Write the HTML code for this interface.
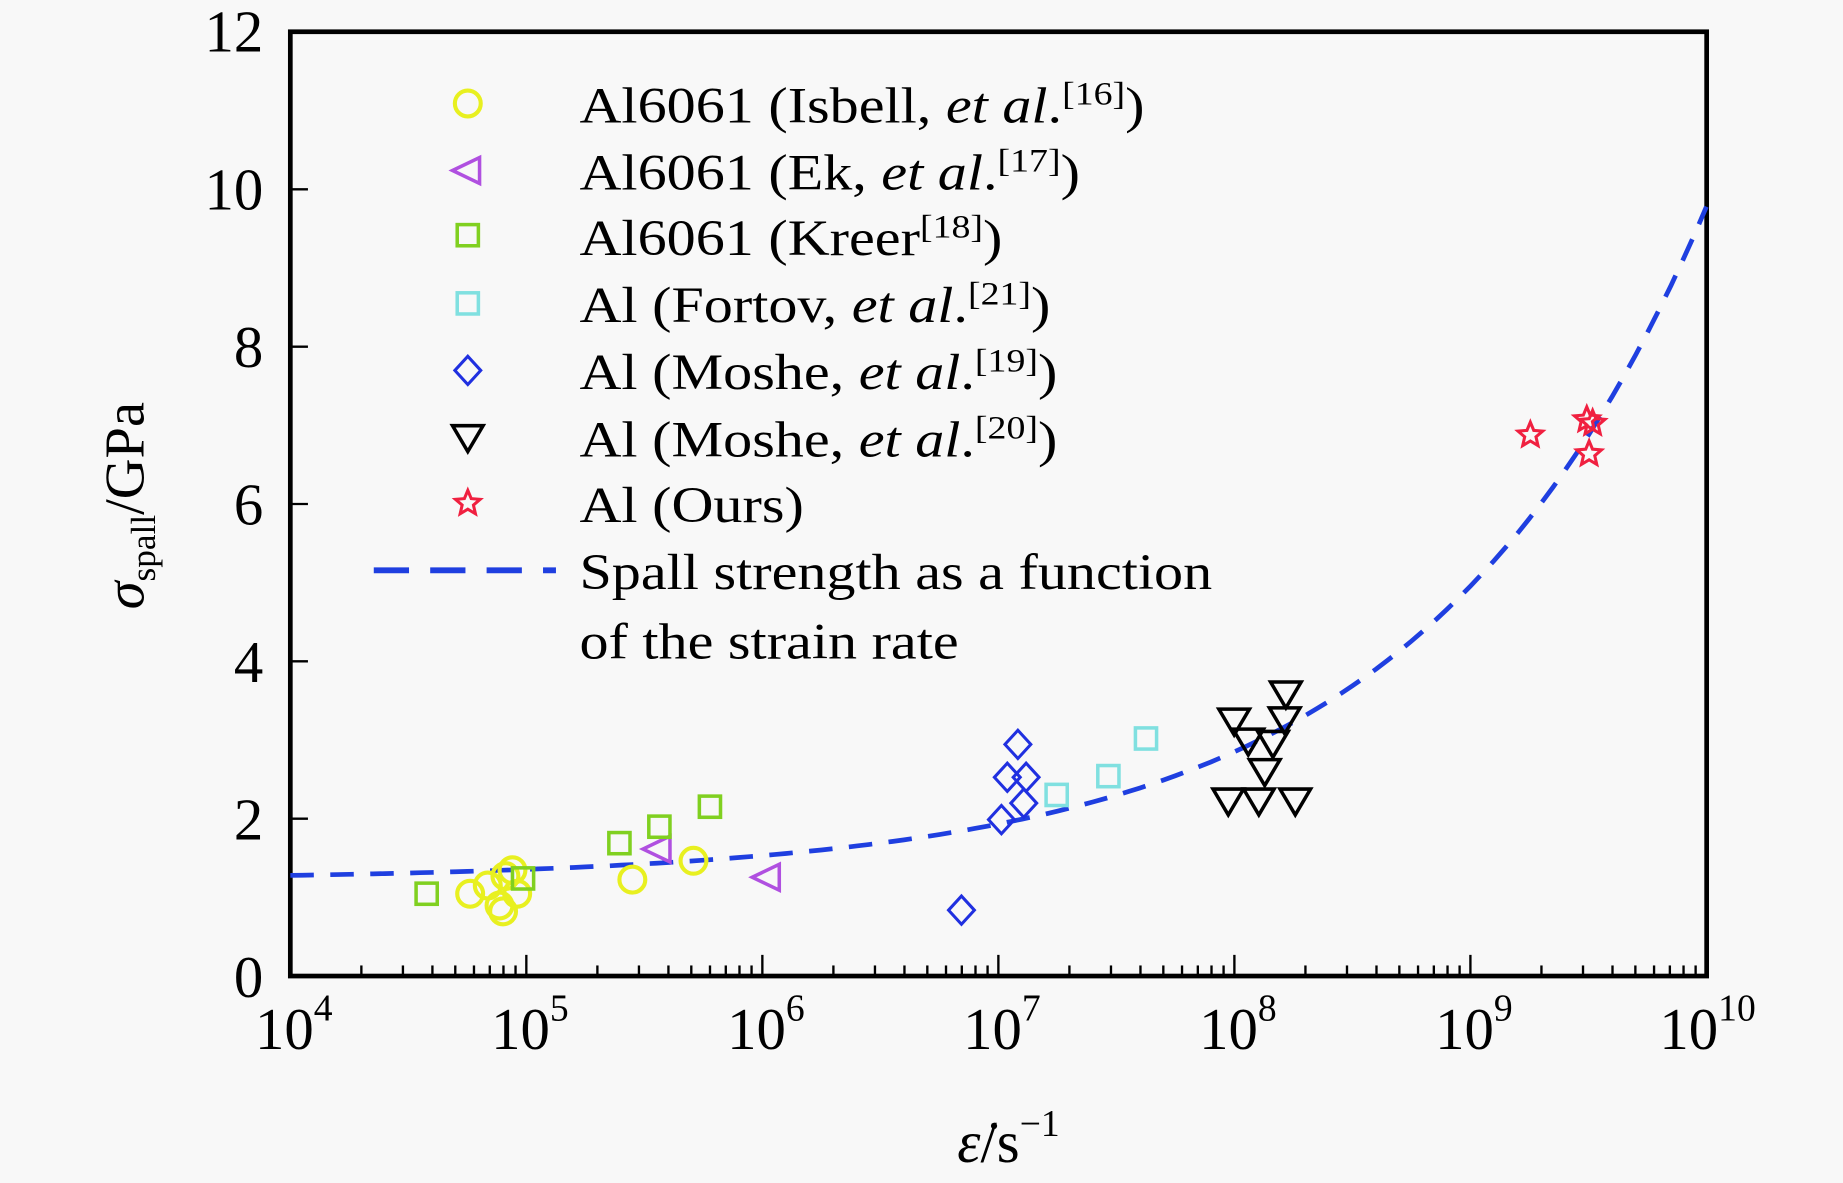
<!DOCTYPE html>
<html><head><meta charset="utf-8"><style>
html,body{margin:0;padding:0;background:#f8f8f8;}
svg{display:block;}
text{font-family:"Liberation Serif",serif;fill:#000;}
</style></head><body>
<svg id="s" width="1843" height="1183" viewBox="0 0 1568 1006" preserveAspectRatio="none">
<rect width="1568" height="1006" fill="#f8f8f8"/>
<g id="ticks" stroke="#000" stroke-width="2"></g>
<rect x="247" y="27" width="1205" height="803" fill="none" stroke="#000" stroke-width="4"/>
<g font-size="50" text-anchor="end">
<text x="224" y="848">0</text><text x="224" y="714">2</text><text x="224" y="580">4</text>
<text x="224" y="446">6</text><text x="224" y="312">8</text><text x="224" y="178">10</text><text x="224" y="44">12</text>
</g>
<g font-size="50" id="xl"></g>
<path id="curve" fill="none" stroke="#1f3fe0" stroke-width="4" stroke-dasharray="20,14"/>
<g id="pts" fill="none" stroke-width="2.6"></g>
<g font-size="43" transform="translate(493,0) scale(1.15,1)">
<text x="0" y="104">Al6061 (Isbell, <tspan font-style="italic">et al</tspan>.<tspan font-size="28" dy="-15">[16]</tspan><tspan dy="15">)</tspan></text>
<text x="0" y="161">Al6061 (Ek, <tspan font-style="italic">et al</tspan>.<tspan font-size="28" dy="-15">[17]</tspan><tspan dy="15">)</tspan></text>
<text x="0" y="217">Al6061 (Kreer<tspan font-size="28" dy="-15">[18]</tspan><tspan dy="15">)</tspan></text>
<text x="0" y="274">Al (Fortov, <tspan font-style="italic">et al</tspan>.<tspan font-size="28" dy="-15">[21]</tspan><tspan dy="15">)</tspan></text>
<text x="0" y="331">Al (Moshe, <tspan font-style="italic">et al</tspan>.<tspan font-size="28" dy="-15">[19]</tspan><tspan dy="15">)</tspan></text>
<text x="0" y="388">Al (Moshe, <tspan font-style="italic">et al</tspan>.<tspan font-size="28" dy="-15">[20]</tspan><tspan dy="15">)</tspan></text>
<text x="0" y="444">Al (Ours)</text>
<text x="0" y="501">Spall strength as a function</text>
<text x="0" y="560">of the strain rate</text>
</g>
<line x1="318" y1="485" x2="473" y2="485" stroke="#1f3fe0" stroke-width="5" stroke-dasharray="30,18"/>
<text transform="translate(122,430) rotate(-90)" font-size="48" text-anchor="middle"><tspan font-style="italic">σ</tspan><tspan font-size="30" dy="10">spall</tspan><tspan dy="-10">/GPa</tspan></text>
<text x="858" y="988" font-size="50" text-anchor="middle"><tspan font-style="italic">ε̇</tspan>/s<tspan font-size="32" dy="-22">−1</tspan></text>
</svg>
<script>
var NS="http://www.w3.org/2000/svg";
function X(l){return 247+(l-4)*200.8;}
function Y(v){return 830-v*66.9;}
function el(p,t,a){var e=document.createElementNS(NS,t);for(var k in a)e.setAttribute(k,a[k]);p.appendChild(e);return e;}
var tk=document.getElementById('ticks');
for(var d=4;d<10;d++){el(tk,'line',{x1:X(d),y1:830,x2:X(d),y2:812});
 for(var m=2;m<10;m++){var x=X(d+Math.log10(m));el(tk,'line',{x1:x,y1:830,x2:x,y2:821});}}
for(var v=2;v<12;v+=2)el(tk,'line',{x1:247,y1:Y(v),x2:262,y2:Y(v)});
var xl=document.getElementById('xl');
for(var d=4;d<=10;d++){var t=el(xl,'text',{x:X(d)-(d==10?40:30),y:892});t.textContent='10';
 var s=el(t,'tspan',{'font-size':'32','dy':'-24'});s.textContent=d;}
var p="";for(var l=4;l<=10.001;l+=0.05){var v=1.22+0.00215*Math.pow(10,0.36*l);p+=(p?"L":"M")+X(l).toFixed(1)+","+Y(v).toFixed(1);}
document.getElementById('curve').setAttribute('d',p);
var g=document.getElementById('pts');
function circ(x,y){el(g,'circle',{cx:x,cy:y,r:11,stroke:'#e8f020','stroke-width':3.5});}
function ltri(x,y,c){el(g,'polygon',{points:(x-13)+','+y+' '+(x+10)+','+(y-11)+' '+(x+10)+','+(y+11),stroke:c||'#b050e0','stroke-width':3});}
function sq(x,y,c){el(g,'rect',{x:x-9,y:y-9,width:18,height:18,stroke:c,'stroke-width':3});}
function dia(x,y){el(g,'polygon',{points:x+','+(y-12)+' '+(x+11)+','+y+' '+x+','+(y+12)+' '+(x-11)+','+y,stroke:'#2030e0'});}
function dtri(x,y){el(g,'polygon',{points:(x-13)+','+(y-10)+' '+(x+13)+','+(y-10)+' '+x+','+(y+12),stroke:'#000','stroke-width':3});}
function star(x,y){var pt=[];for(var i=0;i<10;i++){var r=i%2?5:11,a=-Math.PI/2+i*Math.PI/5;pt.push((x+r*Math.cos(a)).toFixed(1)+','+(y+r*Math.sin(a)).toFixed(1));}
 el(g,'polygon',{points:pt.join(' '),stroke:'#f02040','stroke-width':2.6});}
[[400,760],[415,753],[425,770],[430,745],[436,740],[440,760],[428,775],[538,748],[590,732]].forEach(function(a){circ(a[0],a[1]);});
[[560,722],[653,746]].forEach(function(a){ltri(a[0],a[1]);});
[[363,760],[445,747],[527,717],[561,703],[604,686]].forEach(function(a){sq(a[0],a[1],'#80d020');});
[[899,676],[943,660],[975,628]].forEach(function(a){sq(a[0],a[1],'#80e0e0');});
[[818,774],[852,697],[857,661],[866,633],[873,661],[871,683]].forEach(function(a){dia(a[0],a[1]);});
[[1045,681],[1071,681],[1102,681],[1076,656],[1050,613],[1062,630],[1083,632],[1093,612],[1094,590]].forEach(function(a){dtri(a[0],a[1]);});
[[1302,370],[1350,357],[1355,360],[1352,386]].forEach(function(a){star(a[0],a[1]);});
circ(398,88);ltri(398,145);sq(398,200,'#80d020');sq(398,258,'#80e0e0');dia(398,315);dtri(398,372);star(398,428);
</script>
</body></html>
